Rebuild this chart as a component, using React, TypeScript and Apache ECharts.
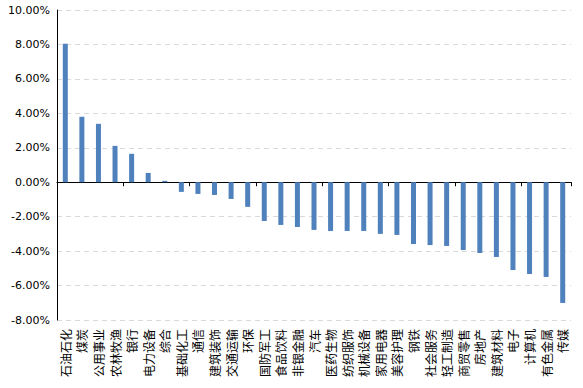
import React, { useEffect, useRef } from "react";
import * as echarts from "echarts";

const categories = [
  "石油石化", "煤炭", "公用事业", "农林牧渔", "银行", "电力设备", "综合",
  "基础化工", "通信", "建筑装饰", "交通运输", "环保", "国防军工", "食品饮料",
  "非银金融", "汽车", "医药生物", "纺织服饰", "机械设备", "家用电器", "美容护理",
  "钢铁", "社会服务", "轻工制造", "商贸零售", "房地产", "建筑材料", "电子",
  "计算机", "有色金属", "传媒",
];

const returns = [
  8.04, 3.8, 3.39, 2.11, 1.65, 0.54, 0.08,
  -0.56, -0.68, -0.74, -0.97, -1.43, -2.25, -2.48,
  -2.6, -2.77, -2.83, -2.83, -2.83, -3.0, -3.06,
  -3.59, -3.65, -3.7, -3.94, -4.11, -4.34, -5.1,
  -5.33, -5.5, -7.01,
];

const yMin = -8;
const yMax = 10;
const yStep = 2;

export default function App() {
  const ref = useRef<HTMLDivElement>(null);

  useEffect(() => {
    if (!ref.current) return;
    const chart = echarts.init(ref.current, undefined, { renderer: "svg" });
    chart.setOption({
      animation: false,
      backgroundColor: "#ffffff",
      grid: { left: 57, right: 12, top: 10, bottom: 68, containLabel: false },
      xAxis: [
        {
          type: "category",
          data: categories,
          position: "bottom",
          axisLine: { show: true, onZero: true, lineStyle: { color: "#000000", width: 1 } },
          axisTick: { show: true, alignWithLabel: false, length: 4, lineStyle: { color: "#000000" } },
          axisLabel: { show: false },
          splitLine: { show: false },
        },
        {
          type: "category",
          data: categories,
          position: "bottom",
          axisLine: { show: false, onZero: false },
          axisTick: { show: false },
          axisLabel: {
            show: true,
            rotate: 90,
            interval: 0,
            margin: 9,
            color: "#000000",
            fontSize: 12,
            fontFamily: "Noto Sans CJK SC",
          },
          splitLine: { show: false },
        },
      ],
      yAxis: {
        type: "value",
        min: yMin,
        max: yMax,
        interval: yStep,
        axisLine: { show: true, lineStyle: { color: "#000000", width: 1 } },
        axisTick: { show: false },
        axisLabel: {
          color: "#000000",
          fontSize: 11,
          fontFamily: "DejaVu Sans",
          margin: 7,
          formatter: (v: number) => v.toFixed(2) + "%",
        },
        splitLine: { show: true, lineStyle: { color: "#d9d9d9", type: [5, 4], width: 1 } },
      },
      series: [
        {
          type: "bar",
          xAxisIndex: 0,
          data: returns,
          barWidth: 5,
          itemStyle: { color: "#4f81bd" },
        },
      ],
    });
    return () => chart.dispose();
  }, []);

  return (
    <div
      ref={ref}
      style={{ position: "fixed", left: 0, top: 0, width: 583, height: 388, background: "#fff" }}
    />
  );
}
